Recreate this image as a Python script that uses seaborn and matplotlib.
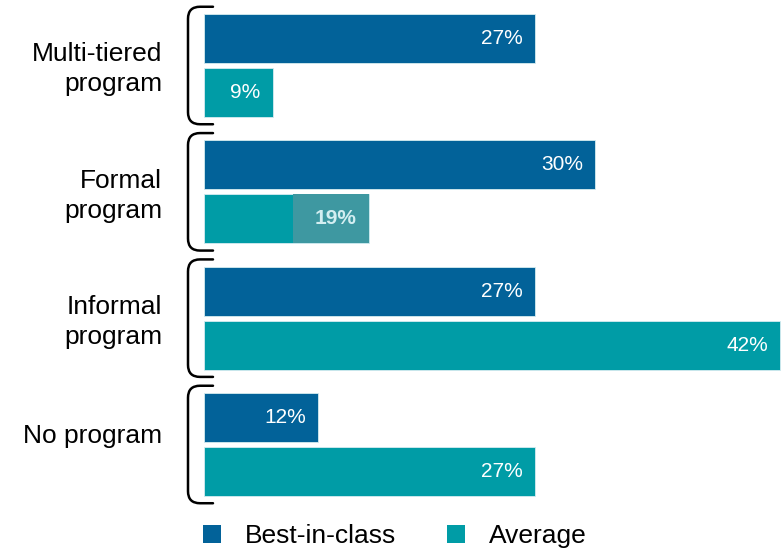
import matplotlib
matplotlib.use("Agg")
import matplotlib.pyplot as plt
import seaborn as sns
import pandas as pd
from matplotlib.path import Path
from matplotlib.patches import PathPatch, Patch, Rectangle

# ---- data ----
categories = ["Multi-tiered\nprogram", "Formal\nprogram", "Informal\nprogram", "No program"]
series = ["Best-in-class", "Average"]
# labelled values (as printed on the bars)
best_labels = [27, 30, 27, 12]
avg_labels = [9, 19, 42, 27]
# bar lengths as drawn in the picture (same % scale, 42% bar = full length)
best_lengths = [24.1, 28.5, 24.1, 8.3]
avg_lengths = [5.0, 12.0, 42.0, 24.1]

colors = {"Best-in-class": "#026299", "Average": "#009ca6"}

rows = []
for i, c in enumerate(categories):
    rows.append({"category": c, "series": "Best-in-class", "length": best_lengths[i], "label": best_labels[i]})
    rows.append({"category": c, "series": "Average", "length": avg_lengths[i], "label": avg_labels[i]})
df = pd.DataFrame(rows)

sns.set_theme(style="white")
plt.rcParams["font.family"] = ["Liberation Sans", "DejaVu Sans"]
plt.rcParams["text.color"] = "black"

W, H = 782, 549
fig = plt.figure(figsize=(W / 100, H / 100), dpi=100)
ax = fig.add_axes([0, 0, 1, 1])

WIDTH = 0.855
GAP = 0.093
sns.barplot(data=df, y="category", x="length", hue="series", orient="h",
            palette=colors, width=WIDTH, gap=GAP, ax=ax, legend=False,
            edgecolor="#d6ecf0", linewidth=0.6, saturation=1)

# pixel-based scales
px_per_x = 576 / 42.0
x0_px = 204
ax.set_xlim(-x0_px / px_per_x, (W - x0_px) / px_per_x)
pitch = 126.33
y0_px = 65.5
ax.set_ylim((H - y0_px) / pitch, -y0_px / pitch)
ax.axis("off")

def px2x(p):
    return (p - x0_px) / px_per_x

# overlay box on the 19% bar (as in the source image)
ov_left = px2x(293)
ov_right = avg_lengths[1]
ov_h = WIDTH / 2 * (1 - GAP)
ax.add_patch(Rectangle((ov_left, 1 + WIDTH / 4 - ov_h / 2), ov_right - ov_left, ov_h,
                       facecolor="#3e98a1", edgecolor="none", zorder=3))

# value labels
pad = 12 / px_per_x
for i in range(len(categories)):
    yb = i - WIDTH / 4
    ya = i + WIDTH / 4
    ax.text(best_lengths[i] - pad, yb, f"{best_labels[i]}%", ha="right", va="center",
            color="white", fontsize=15, zorder=4)
    col = "white"
    weight = "normal"
    if i == 1:
        col = "#d3eef1"
        weight = "bold"
    ax.text(avg_lengths[i] - pad, ya, f"{avg_labels[i]}%", ha="right", va="center",
            color=col, fontsize=15, fontweight=weight, zorder=4)

# category labels
for i, c in enumerate(categories):
    dy = -0.065 if "\n" not in c else 0.03
    ax.text(px2x(162), i + dy, c, ha="right", va="center", fontsize=19,
            color="black", linespacing=1.32)

# brackets
bx = px2x(188)
tick_end = px2x(213)
r_x = 12 / px_per_x
r_y = 12 / pitch
top_pad = 6 / pitch
for i in range(len(categories)):
    top = i - WIDTH / 2 - top_pad + 0.01
    bot = i + WIDTH / 2 + top_pad - 0.01
    verts = [
        (tick_end, top), (bx + r_x, top), (bx, top), (bx, top + r_y),
        (bx, bot - r_y), (bx, bot), (bx + r_x, bot), (tick_end, bot),
    ]
    codes = [Path.MOVETO, Path.LINETO, Path.CURVE3, Path.CURVE3,
             Path.LINETO, Path.CURVE3, Path.CURVE3, Path.LINETO]
    ax.add_patch(PathPatch(Path(verts, codes), facecolor="none", edgecolor="black",
                           linewidth=1.8, zorder=1, capstyle="round"))

# legend
handles = [Patch(facecolor=colors[s], edgecolor="none", label=s) for s in series]
fig.legend(handles=handles, ncol=2, frameon=False, fontsize=19,
           loc="lower left", bbox_to_anchor=(203 / W, 1 / H),
           borderpad=0, handlelength=0.7, handleheight=0.7,
           handletextpad=0.9, columnspacing=1.9, borderaxespad=0,
           labelcolor="black")

fig.savefig("out.png", dpi=100)
